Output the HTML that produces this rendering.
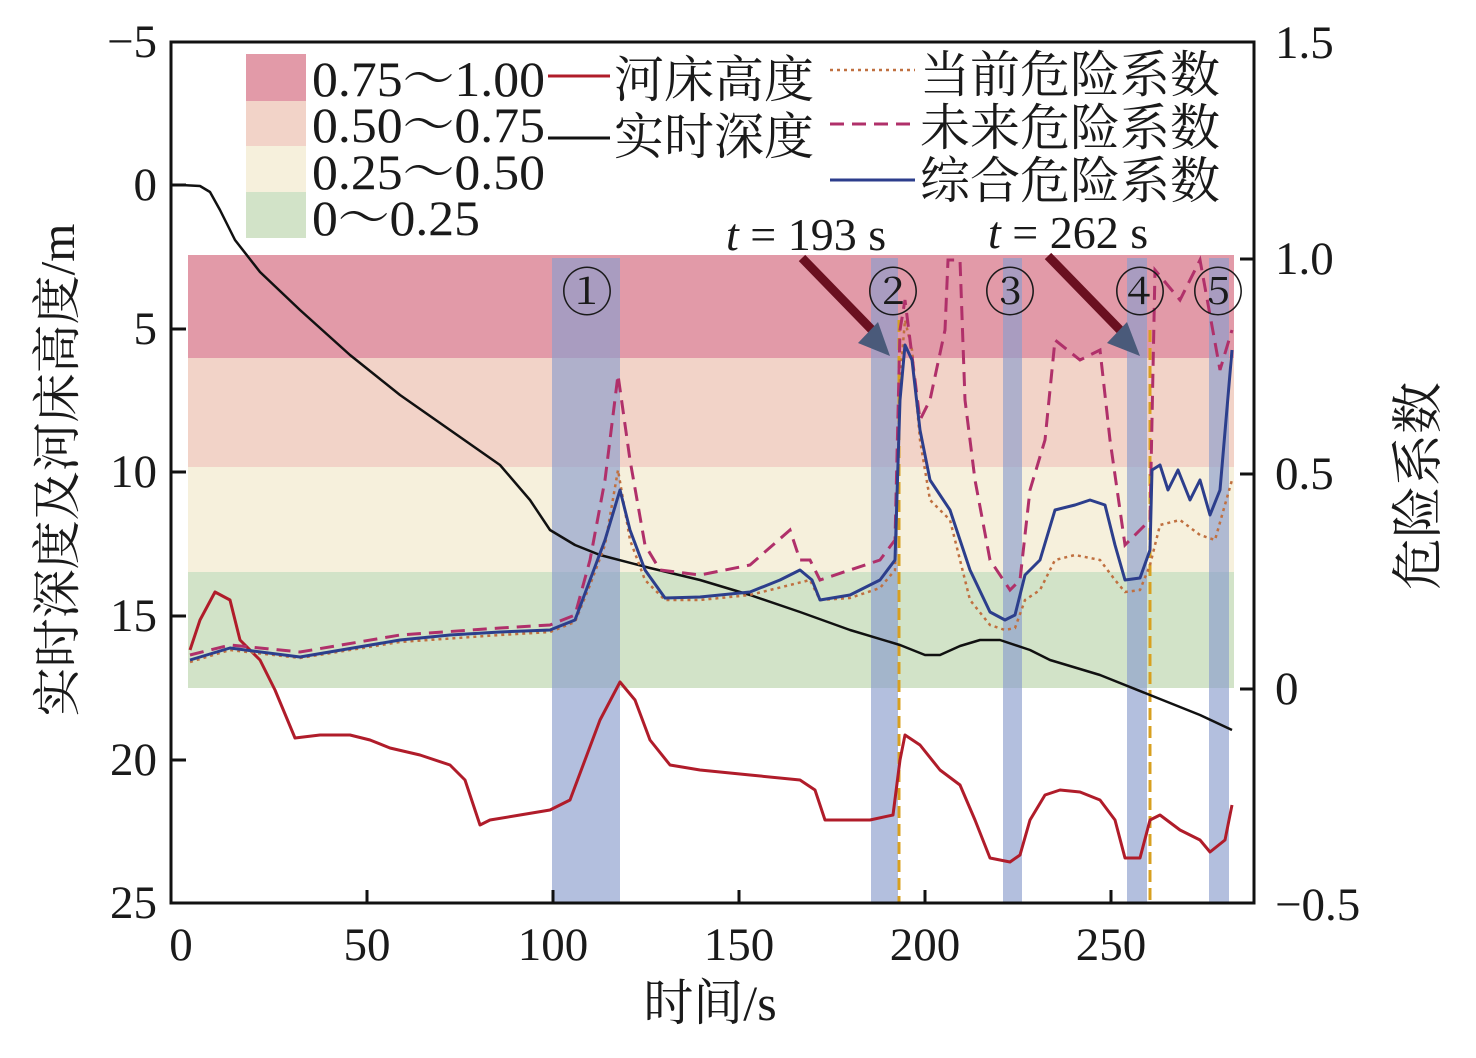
<!DOCTYPE html>
<html><head><meta charset="utf-8"><style>
html,body{margin:0;padding:0;background:#fff;}
svg text{font-family:"Liberation Serif","Noto Serif CJK SC",serif;fill:#1a1a1a;}
</style></head><body>
<svg width="1476" height="1053" viewBox="0 0 1476 1053" xmlns="http://www.w3.org/2000/svg">
<rect x="188" y="255" width="1046" height="103" fill="#e29aa8"/>
<rect x="188" y="358" width="1046" height="109" fill="#f2d3c8"/>
<rect x="188" y="467" width="1046" height="105" fill="#f6f0dc"/>
<rect x="188" y="572" width="1046" height="116" fill="#d2e3c8"/>
<g fill="#8a9ccc" fill-opacity="0.65">
<rect x="552" y="258" width="68" height="645"/>
<rect x="871" y="258" width="27" height="645"/>
<rect x="1003" y="258" width="19" height="645"/>
<rect x="1127" y="258" width="20" height="645"/>
<rect x="1209" y="258" width="20" height="645"/>
</g>
<g stroke="#d8a020" stroke-width="3" stroke-dasharray="12,6">
<line x1="899" y1="320" x2="899" y2="903"/>
<line x1="1150" y1="330" x2="1150" y2="903"/>
</g>
<polyline fill="none" stroke="#111" stroke-width="2.5" stroke-linejoin="round" points="181,185 200,186 210,192 220,210 235,240 260,272 300,310 350,355 400,395 450,430 500,465 530,500 550,530 575,545 600,555 650,568 700,580 750,595 800,612 850,630 900,645 925,655 940,655 960,646 980,640 1000,640 1030,650 1050,660 1100,675 1150,695 1200,715 1232,730"/>
<polyline fill="none" stroke="#b01c2a" stroke-width="3" stroke-linejoin="round" points="190,650 200,620 215,592 230,600 240,640 260,660 275,690 295,738 320,735 350,735 370,740 390,748 420,755 450,765 465,780 480,825 490,820 520,815 550,810 570,800 585,760 600,720 620,682 635,700 650,740 670,765 700,770 750,775 800,780 815,790 825,820 870,820 893,815 900,760 905,735 920,745 940,770 960,785 975,820 990,858 1010,862 1020,855 1030,820 1045,795 1060,790 1080,792 1100,800 1115,820 1125,858 1140,858 1150,820 1160,815 1180,830 1200,840 1210,852 1225,840 1232,805"/>
<polyline fill="none" stroke="#c07040" stroke-width="2.5" stroke-dasharray="3,4" points="190,662 230,650 300,658 400,642 500,635 550,632 575,622 590,585 605,545 618,470 630,540 645,580 665,600 700,600 750,595 790,585 810,580 820,600 850,598 880,588 895,570 900,380 905,320 912,350 920,440 930,500 950,520 960,560 970,600 990,625 1005,630 1015,628 1025,600 1040,590 1055,560 1075,555 1100,560 1115,580 1125,592 1140,590 1150,565 1160,525 1180,520 1200,535 1215,540 1232,480"/>
<polyline fill="none" stroke="#b0306a" stroke-width="3" stroke-dasharray="14,8" points="190,655 230,645 300,652 400,635 500,628 550,625 575,615 590,560 605,480 618,375 630,460 645,545 660,570 700,575 750,565 790,530 800,560 810,560 820,580 850,570 880,560 895,540 900,330 905,300 920,420 930,400 945,330 948,260 960,260 965,400 975,480 990,560 1010,590 1020,580 1030,490 1045,440 1055,340 1080,360 1100,350 1110,440 1125,545 1150,520 1155,270 1180,300 1200,260 1220,370 1232,330"/>
<polyline fill="none" stroke="#2c3e8c" stroke-width="3" stroke-linejoin="round" points="190,660 230,648 300,657 400,640 450,635 500,632 550,630 575,620 590,580 605,540 620,490 630,530 645,570 665,598 700,597 750,592 780,580 800,570 812,580 820,600 850,595 880,580 895,560 900,400 905,345 912,360 920,430 930,480 950,510 960,540 970,570 990,612 1005,620 1015,615 1025,575 1040,560 1055,510 1075,505 1090,500 1105,505 1115,545 1125,580 1140,578 1150,550 1152,470 1160,465 1168,490 1178,470 1190,500 1200,480 1210,515 1220,490 1232,350"/>
<line x1="802" y1="258" x2="872" y2="330" stroke="#6a1020" stroke-width="9"/>
<polygon points="890,356 858,343 878,322" fill="#4a5a7a"/>
<line x1="1048" y1="256" x2="1120" y2="330" stroke="#6a1020" stroke-width="9"/>
<polygon points="1140,356 1107,343 1127,322" fill="#4a5a7a"/>
<text x="726" y="250" font-size="46"><tspan font-style="italic">t</tspan> = 193 s</text>
<text x="988" y="248" font-size="46"><tspan font-style="italic">t</tspan> = 262 s</text>
<g font-size="52" text-anchor="middle" font-family="Liberation Serif,DejaVu Serif,serif">
<text x="587" y="311">①</text><text x="893" y="311">②</text><text x="1010" y="311">③</text><text x="1140" y="311">④</text><text x="1218" y="311">⑤</text>
</g>
<rect x="171" y="42" width="1083" height="861" fill="none" stroke="#111" stroke-width="3"/>
<g stroke="#111" stroke-width="3">
<line x1="171" y1="185" x2="186" y2="185"/><line x1="171" y1="329" x2="186" y2="329"/><line x1="171" y1="472" x2="186" y2="472"/><line x1="171" y1="616" x2="186" y2="616"/><line x1="171" y1="760" x2="186" y2="760"/>
<line x1="1240" y1="259" x2="1254" y2="259"/><line x1="1240" y1="474" x2="1254" y2="474"/><line x1="1240" y1="689" x2="1254" y2="689"/>
<line x1="367" y1="903" x2="367" y2="890"/><line x1="553" y1="903" x2="553" y2="890"/><line x1="739" y1="903" x2="739" y2="890"/><line x1="925" y1="903" x2="925" y2="890"/><line x1="1111" y1="903" x2="1111" y2="890"/>
</g>
<g font-size="47" text-anchor="end">
<text x="157" y="57">−5</text><text x="157" y="200">0</text><text x="157" y="344">5</text><text x="157" y="487">10</text><text x="157" y="631">15</text><text x="157" y="775">20</text><text x="157" y="918">25</text>
</g>
<g font-size="47">
<text x="1275" y="58">1.5</text><text x="1275" y="274">1.0</text><text x="1275" y="489">0.5</text><text x="1275" y="704">0</text><text x="1275" y="920">−0.5</text>
</g>
<g font-size="47" text-anchor="middle">
<text x="181" y="960">0</text><text x="367" y="960">50</text><text x="553" y="960">100</text><text x="739" y="960">150</text><text x="925" y="960">200</text><text x="1111" y="960">250</text>
</g>
<text x="710" y="1020" font-size="50" text-anchor="middle">时间/s</text>
<text transform="translate(74,470) rotate(-90)" font-size="49" text-anchor="middle">实时深度及河床高度/m</text>
<text transform="translate(1436,486) rotate(-90)" font-size="52" text-anchor="middle">危险系数</text>
<rect x="246" y="54" width="60" height="47" fill="#e29aa8"/>
<rect x="246" y="101" width="60" height="45" fill="#f2d3c8"/>
<rect x="246" y="146" width="60" height="46" fill="#f6f0dc"/>
<rect x="246" y="192" width="60" height="46" fill="#d2e3c8"/>
<g font-size="50">
<text x="312" y="96" textLength="233" lengthAdjust="spacingAndGlyphs">0.75～1.00</text>
<text x="312" y="142" textLength="233" lengthAdjust="spacingAndGlyphs">0.50～0.75</text>
<text x="312" y="189" textLength="233" lengthAdjust="spacingAndGlyphs">0.25～0.50</text>
<text x="312" y="235" textLength="168" lengthAdjust="spacingAndGlyphs">0～0.25</text>
<text x="614" y="97">河床高度</text>
<text x="614" y="154">实时深度</text>
<text x="920" y="92">当前危险系数</text>
<text x="920" y="145">未来危险系数</text>
<text x="920" y="198">综合危险系数</text>
</g>
<line x1="548" y1="76" x2="610" y2="76" stroke="#b01c2a" stroke-width="3"/>
<line x1="548" y1="138" x2="610" y2="138" stroke="#111" stroke-width="3"/>
<line x1="830" y1="70" x2="915" y2="70" stroke="#c07040" stroke-width="2.5" stroke-dasharray="3,4"/>
<line x1="830" y1="124" x2="915" y2="124" stroke="#b0306a" stroke-width="3" stroke-dasharray="14,8"/>
<line x1="830" y1="180" x2="915" y2="180" stroke="#2c3e8c" stroke-width="3"/>
</svg>
</body></html>
